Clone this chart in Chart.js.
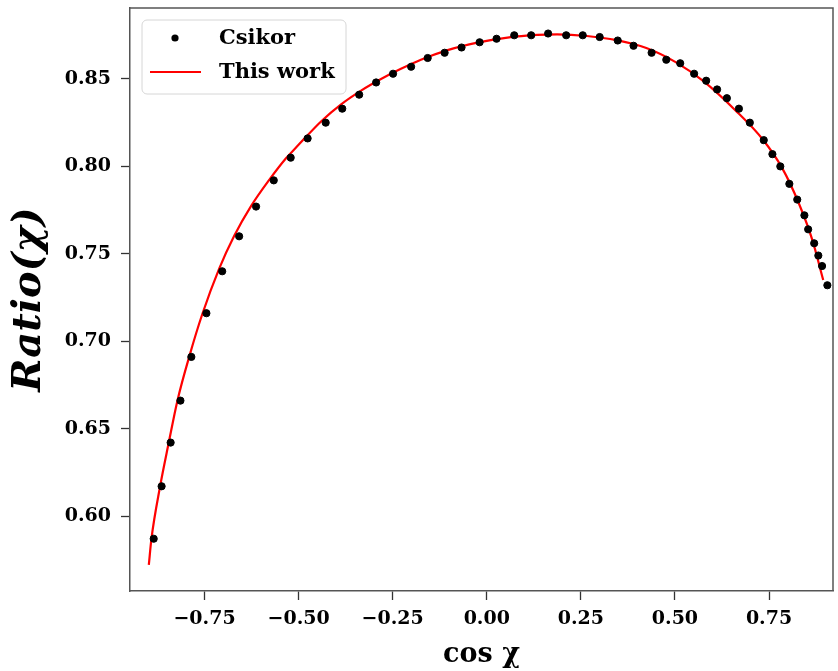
<!DOCTYPE html>
<html>
<head>
<meta charset="utf-8">
<script src="https://cdn.jsdelivr.net/npm/chart.js@4.4.0/dist/chart.umd.min.js"></script>
<style>
  html, body { margin: 0; padding: 0; background: #fff; }
  #wrap { width: 838px; height: 671px; }
</style>
</head>
<body>
<div id="wrap"><canvas id="myChart" width="838" height="671"></canvas></div>
<script>
"use strict";

// Csikor (black dots)
const csikorX = [-0.885, -0.864, -0.840, -0.814, -0.785, -0.745, -0.703, -0.658, -0.613, -0.566,
  -0.521, -0.476, -0.428, -0.384, -0.339, -0.294, -0.249, -0.201, -0.157, -0.112,
  -0.067, -0.019, 0.026, 0.073, 0.118, 0.163, 0.211, 0.255, 0.300, 0.348,
  0.390, 0.438, 0.477, 0.514, 0.551, 0.583, 0.612, 0.638, 0.670, 0.699,
  0.736, 0.759, 0.780, 0.804, 0.825, 0.844, 0.854, 0.870, 0.881, 0.891, 0.905];
const csikorY = [0.587, 0.617, 0.642, 0.666, 0.691, 0.716, 0.740, 0.760, 0.777, 0.792,
  0.805, 0.816, 0.825, 0.833, 0.841, 0.848, 0.853, 0.857, 0.862, 0.865,
  0.868, 0.871, 0.873, 0.875, 0.875, 0.876, 0.875, 0.875, 0.874, 0.872,
  0.869, 0.865, 0.861, 0.859, 0.853, 0.849, 0.844, 0.839, 0.833, 0.825,
  0.815, 0.807, 0.800, 0.790, 0.781, 0.772, 0.764, 0.756, 0.749, 0.743, 0.732];

// This work (red curve)
const workX = [-0.898, -0.891, -0.868, -0.845, -0.822, -0.790, -0.756, -0.711, -0.671, -0.626,
  -0.579, -0.534, -0.508, -0.439, -0.387, -0.333, -0.281, -0.228, -0.175, -0.104,
  -0.025, 0.055, 0.134, 0.187, 0.266, 0.345, 0.424, 0.503, 0.574, 0.661,
  0.733, 0.785, 0.828, 0.865, 0.894];
const workY = [0.572, 0.587, 0.617, 0.642, 0.666, 0.6916, 0.7154, 0.7415, 0.7603, 0.7774,
  0.7920, 0.8045, 0.8105, 0.8260, 0.8355, 0.8435, 0.8500, 0.8558, 0.8610, 0.8665,
  0.8708, 0.8737, 0.8752, 0.8755, 0.8746, 0.8722, 0.8677, 0.8595, 0.8490, 0.8320,
  0.8155, 0.7990, 0.7795, 0.7580, 0.7350];

const xTicks = [-0.75, -0.50, -0.25, 0.00, 0.25, 0.50, 0.75];
const yTicks = [0.60, 0.65, 0.70, 0.75, 0.80, 0.85];

const serif = "'DejaVu Serif', serif";

function toPoints(xs, ys) {
  return xs.map((x, i) => ({ x: x, y: ys[i] }));
}
function fmt(v) {
  return v.toFixed(2).replace('-', '\u2212');
}

// top/right spines and legend box
const framePlugin = {
  id: 'frame',
  afterDraw(chart) {
    const ctx = chart.ctx;
    const a = chart.chartArea;
    ctx.save();
    ctx.strokeStyle = '#555';
    ctx.lineWidth = 1.5;
    ctx.beginPath();
    ctx.moveTo(a.left, a.top);
    ctx.lineTo(a.right, a.top);
    ctx.lineTo(a.right, a.bottom);
    ctx.stroke();

    // legend
    const bx = a.left + 12, by = a.top + 12, bw = 204, bh = 74;
    ctx.beginPath();
    ctx.roundRect(bx, by, bw, bh, 5);
    ctx.fillStyle = 'rgba(255,255,255,0.8)';
    ctx.fill();
    ctx.strokeStyle = '#d6d6d6';
    ctx.lineWidth = 1;
    ctx.stroke();

    ctx.fillStyle = '#000';
    ctx.beginPath();
    ctx.arc(bx + 33, by + 18, 3.6, 0, Math.PI * 2);
    ctx.fill();

    ctx.strokeStyle = '#ff0000';
    ctx.lineWidth = 2.2;
    ctx.beginPath();
    ctx.moveTo(bx + 8, by + 52);
    ctx.lineTo(bx + 59, by + 52);
    ctx.stroke();

    ctx.font = "bold 21px " + serif;
    ctx.textBaseline = 'middle';
    ctx.textAlign = 'left';
    ctx.fillStyle = '#000';
    ctx.fillText('Csikor', bx + 77, by + 19);
    ctx.fillText('This work', bx + 77, by + 53);
    ctx.restore();
  }
};

function fixWidth(w) {
  return function (scale) {
    scale.width = w;
    scale.paddingTop = 0; scale.paddingBottom = 0;
    scale.paddingLeft = 0; scale.paddingRight = 0;
  };
}
function fixHeight(h) {
  return function (scale) {
    scale.height = h;
    scale.paddingTop = 0; scale.paddingBottom = 0;
    scale.paddingLeft = 0; scale.paddingRight = 0;
  };
}

const data = {
  datasets: [{
    type: 'scatter',
    label: 'Csikor',
    data: toPoints(csikorX, csikorY),
    backgroundColor: '#000',
    borderColor: '#000',
    pointRadius: 3.6,
    order: 0
  }, {
    type: 'line',
    label: 'This work',
    data: toPoints(workX, workY),
    borderColor: '#ff0000',
    borderWidth: 2.2,
    pointRadius: 0,
    fill: false,
    cubicInterpolationMode: 'monotone',
    order: 1
  }]
};

const config = {
  type: 'scatter',
  data,
  options: {
    responsive: false,
    animation: false,
    layout: { padding: { top: 8, right: 1, left: 0, bottom: 0 } },
    plugins: {
      legend: { display: false },
      tooltip: { enabled: false }
    },
    scales: {
      x: {
        type: 'linear',
        min: -0.948,
        max: 0.920,
        afterBuildTicks: (scale) => { scale.ticks = xTicks.map(v => ({ value: v })); },
        afterFit: fixHeight(80),
        ticks: {
          callback: (v) => fmt(v),
          color: '#000',
          padding: 8,
          maxRotation: 0,
          autoSkip: false,
          font: { family: serif, size: 19, weight: 'bold' }
        },
        grid: { display: true, drawOnChartArea: false, drawTicks: true, tickLength: 9, color: '#333', tickWidth: 1.3 },
        border: { display: true, color: '#555', width: 1.5 },
        title: {
          display: true,
          text: 'cos \u03c7',
          color: '#000',
          font: { family: serif, size: 27, weight: 'bold' },
          padding: { top: 0, bottom: 0 }
        }
      },
      y: {
        type: 'linear',
        min: 0.5571,
        max: 0.8906,
        afterBuildTicks: (scale) => { scale.ticks = yTicks.map(v => ({ value: v })); },
        afterFit: fixWidth(130),
        ticks: {
          callback: (v) => fmt(v),
          color: '#000',
          padding: 10,
          autoSkip: false,
          font: { family: serif, size: 19, weight: 'bold' }
        },
        grid: { display: true, drawOnChartArea: false, drawTicks: true, tickLength: 9, color: '#333', tickWidth: 1.3 },
        border: { display: true, color: '#555', width: 1.5 },
        title: {
          display: true,
          text: 'Ratio(\u03c7)',
          color: '#000',
          font: { family: serif, size: 40, weight: 'bold', style: 'italic' },
          padding: { top: 6, bottom: 0 }
        }
      }
    }
  },
  plugins: [framePlugin]
};

const myChart = new Chart(document.getElementById('myChart'), config);
</script>
</body>
</html>
